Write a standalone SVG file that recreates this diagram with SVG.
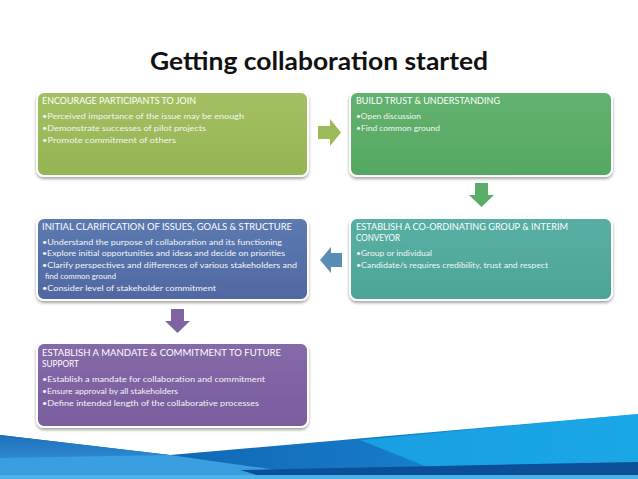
<svg xmlns="http://www.w3.org/2000/svg" width="638" height="479" viewBox="0 0 638 479">
<defs>
<style>
.title{font-family:Lato,"Liberation Sans",Arial,sans-serif;font-weight:bold;font-size:24px;fill:#111;}
.hd{font-family:Lato,"Liberation Sans",Arial,sans-serif;font-size:8.8px;fill:#fff;}
.bd{font-family:Lato,"Liberation Sans",Arial,sans-serif;font-size:7.2px;fill:#f4f4f4;}
.box{stroke:#fff;stroke-width:2;}
</style>
<filter id="sh" x="-10%" y="-10%" width="120%" height="130%">
<feDropShadow dx="0" dy="2" stdDeviation="1.5" flood-color="#000" flood-opacity="0.35"/>
</filter>
<linearGradient id="g1" x1="0" y1="0" x2="0" y2="1"><stop offset="0" stop-color="#a3c062"/><stop offset="1" stop-color="#94b552"/></linearGradient>
<linearGradient id="g2" x1="0" y1="0" x2="0" y2="1"><stop offset="0" stop-color="#62b26f"/><stop offset="1" stop-color="#55a862"/></linearGradient>
<linearGradient id="g3" x1="0" y1="0" x2="0" y2="1"><stop offset="0" stop-color="#5c7ab0"/><stop offset="1" stop-color="#5068a3"/></linearGradient>
<linearGradient id="g4" x1="0" y1="0" x2="0" y2="1"><stop offset="0" stop-color="#58afa3"/><stop offset="1" stop-color="#4ca596"/></linearGradient>
<linearGradient id="g5" x1="0" y1="0" x2="0" y2="1"><stop offset="0" stop-color="#8569a8"/><stop offset="1" stop-color="#7a5d9e"/></linearGradient>
<linearGradient id="wr" x1="0" y1="0" x2="1" y2="0"><stop offset="0" stop-color="#0d5aa6"/><stop offset="0.6" stop-color="#1679c6"/><stop offset="1" stop-color="#1ca9e6"/></linearGradient>
<linearGradient id="wl" x1="0" y1="0" x2="0" y2="1"><stop offset="0" stop-color="#1e6fbc"/><stop offset="1" stop-color="#3aa2e2"/></linearGradient>
</defs>
<rect width="638" height="479" fill="#fff"/>
<text class="title" x="319" y="70" text-anchor="middle" textLength="338" lengthAdjust="spacingAndGlyphs">Getting collaboration started</text>

<g id="box1">
<rect class="box" x="37" y="92" width="271" height="84" rx="7" fill="url(#g1)" filter="url(#sh)"/>
<text class="hd" x="42" y="104" textLength="154" lengthAdjust="spacingAndGlyphs">ENCOURAGE PARTICIPANTS TO JOIN</text>
<text class="bd" x="42" y="119" textLength="202" lengthAdjust="spacingAndGlyphs">•Perceived importance of the issue may be enough</text>
<text class="bd" x="42" y="131" textLength="164" lengthAdjust="spacingAndGlyphs">•Demonstrate successes of pilot projects</text>
<text class="bd" x="42" y="143" textLength="134" lengthAdjust="spacingAndGlyphs">•Promote commitment of others</text>
</g>

<g id="box2">
<rect class="box" x="350" y="92" width="262" height="84" rx="7" fill="url(#g2)" filter="url(#sh)"/>
<text class="hd" x="356" y="104" textLength="144" lengthAdjust="spacingAndGlyphs">BUILD TRUST &amp; UNDERSTANDING</text>
<text class="bd" x="356" y="119" textLength="65" lengthAdjust="spacingAndGlyphs">•Open discussion</text>
<text class="bd" x="356" y="131" textLength="84" lengthAdjust="spacingAndGlyphs">•Find common ground</text>
</g>

<g id="box3">
<rect class="box" x="37" y="218" width="271" height="82" rx="7" fill="url(#g3)" filter="url(#sh)"/>
<text class="hd" x="42" y="230" textLength="250" lengthAdjust="spacingAndGlyphs">INITIAL CLARIFICATION OF ISSUES, GOALS &amp; STRUCTURE</text>
<text class="bd" x="42" y="245" textLength="240" lengthAdjust="spacingAndGlyphs">•Understand the purpose of collaboration and its functioning</text>
<text class="bd" x="42" y="256" textLength="243" lengthAdjust="spacingAndGlyphs">•Explore initial opportunities and ideas and decide on priorities</text>
<text class="bd" x="42" y="268" textLength="255" lengthAdjust="spacingAndGlyphs">•Clarify perspectives and differences of various stakeholders and</text>
<text class="bd" x="45" y="279" textLength="71" lengthAdjust="spacingAndGlyphs">find common ground</text>
<text class="bd" x="42" y="291" textLength="174" lengthAdjust="spacingAndGlyphs">•Consider level of stakeholder commitment</text>
</g>

<g id="box4">
<rect class="box" x="350" y="218" width="262" height="82" rx="7" fill="url(#g4)" filter="url(#sh)"/>
<text class="hd" x="356" y="230" textLength="212" lengthAdjust="spacingAndGlyphs">ESTABLISH A CO-ORDINATING GROUP &amp; INTERIM</text>
<text class="hd" x="356" y="241" textLength="44" lengthAdjust="spacingAndGlyphs">CONVEYOR</text>
<text class="bd" x="356" y="256" textLength="76" lengthAdjust="spacingAndGlyphs">•Group or individual</text>
<text class="bd" x="356" y="268" textLength="192" lengthAdjust="spacingAndGlyphs">•Candidate/s requires credibility, trust and respect</text>
</g>

<g id="box5">
<rect class="box" x="37" y="343" width="271" height="84" rx="7" fill="url(#g5)" filter="url(#sh)"/>
<text class="hd" x="42" y="356" textLength="239" lengthAdjust="spacingAndGlyphs">ESTABLISH A MANDATE &amp; COMMITMENT TO FUTURE</text>
<text class="hd" x="42" y="367" textLength="37" lengthAdjust="spacingAndGlyphs">SUPPORT</text>
<text class="bd" x="42" y="382" textLength="223" lengthAdjust="spacingAndGlyphs">•Establish a mandate for collaboration and commitment</text>
<text class="bd" x="42" y="394" textLength="136" lengthAdjust="spacingAndGlyphs">•Ensure approval by all stakeholders</text>
<text class="bd" x="42" y="406" textLength="217" lengthAdjust="spacingAndGlyphs">•Define intended length of the collaborative processes</text>
</g>

<g id="connectors">
<polygon points="318,126 330,126 330,119 341,132.5 330,146 330,139 318,139" fill="#9bbb59"/>
<polygon points="475,183 488,183 488,195 494,195 481.5,207 469,195 475,195" fill="#5bad6a"/>
<polygon points="342,253 331,253 331,247 320,260 331,273 331,267 342,267" fill="#5a8db5"/>
<polygon points="171,309 184,309 184,321 190,321 177.5,333 165,321 171,321" fill="#8064a2"/>
</g>

<g id="wave">
<polygon points="0,435 170,455 638,414 638,479 0,479" fill="url(#wr)"/>
<polygon points="0,435 170,455 0,479" fill="url(#wl)"/>
<polygon points="0,458 170,455 340,479 0,479" fill="#3a9fe0"/>
<polygon points="360,440 638,414 638,460 430,468" fill="#1aa7e6" opacity="0.85"/>
<polygon points="240,470 638,462 638,476 270,479" fill="#0b4f98"/>
<rect x="0" y="475" width="638" height="4" fill="#4bb2ea"/>
</g>
</svg>
